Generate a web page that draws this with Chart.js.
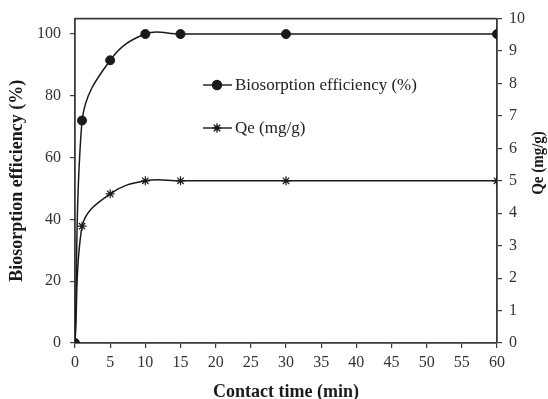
<!DOCTYPE html>
<html>
<head>
<meta charset="utf-8">
<script src="https://cdn.jsdelivr.net/npm/chart.js@4.4.1/dist/chart.umd.min.js"></script>
<style>
  html, body { margin: 0; padding: 0; background: #fff; }
  #wrap { width: 548px; height: 399px; }
</style>
</head>
<body>
<div id="wrap"><canvas id="c" width="548" height="399"></canvas></div>
<script>
// Contact time (min)
const contactTime = [0, 1, 5, 10, 15, 30, 60];
// Biosorption efficiency (%)
const efficiency = [0, 72, 91.5, 100, 100, 100, 100];
// Qe (mg/g)
const qe = [0, 3.6, 4.6, 5.0, 5.0, 5.0, 5.0];

const xTicks = [0, 5, 10, 15, 20, 25, 30, 35, 40, 45, 50, 55, 60];
const leftTicks = [0, 20, 40, 60, 80, 100];
const rightTicks = [0, 1, 2, 3, 4, 5, 6, 7, 8, 9, 10];

const seriesNames = ['Biosorption efficiency (%)', 'Qe (mg/g)'];
const xTitle = 'Contact time (min)';
const leftTitle = 'Biosorption efficiency (%)';
const rightTitle = 'Qe (mg/g)';

const INK = '#1a1a1a';
const AXIS = '#3a3a3a';
const SERIF = '"Liberation Serif", "Times New Roman", serif';

const toPoints = (xs, ys) => xs.map((x, i) => ({ x: x, y: ys[i] }));

// Frame around the plot, inline legend and right-hand axis title
const decor = {
  id: 'decor',
  afterDraw(chart) {
    const { ctx, chartArea: a } = chart;
    ctx.save();
    ctx.strokeStyle = AXIS;
    ctx.lineWidth = 1.6;
    ctx.beginPath();
    ctx.moveTo(a.left, a.top);
    ctx.lineTo(a.right, a.top);
    ctx.stroke();

    // legend entries
    const rows = [
      { y: 85, style: 'circle', r: 4.5 },
      { y: 128, style: 'star', r: 4.5 }
    ];
    ctx.font = '17px ' + SERIF;
    ctx.textBaseline = 'middle';
    rows.forEach((row, i) => {
      ctx.strokeStyle = INK;
      ctx.fillStyle = INK;
      ctx.lineWidth = 1.4;
      ctx.beginPath();
      ctx.moveTo(203, row.y);
      ctx.lineTo(232, row.y);
      ctx.stroke();
      Chart.helpers.drawPoint(ctx, {
        pointStyle: row.style, radius: row.r, borderWidth: 1.2, rotation: 0
      }, 217, row.y);
      if (row.style === 'circle') { ctx.fill(); }
      ctx.fillStyle = '#222';
      ctx.fillText(seriesNames[i], 235, row.y + 1);
    });

    // right axis title, reading bottom to top
    ctx.translate(539, 163);
    ctx.rotate(-Math.PI / 2);
    ctx.scale(1, 1.15);
    ctx.font = 'bold 15px ' + SERIF;
    ctx.fillStyle = INK;
    ctx.textAlign = 'center';
    ctx.textBaseline = 'middle';
    ctx.fillText(rightTitle, 0, 0);
    ctx.restore();
  }
};

const tickFont = { family: SERIF, size: 16 };
const titleFont = { family: SERIF, size: 18, weight: 'bold' };

new Chart(document.getElementById('c'), {
  type: 'line',
  data: {
    datasets: [
      {
        label: seriesNames[0],
        data: toPoints(contactTime, efficiency),
        yAxisID: 'y',
        borderColor: INK,
        backgroundColor: INK,
        borderWidth: 1.5,
        pointStyle: 'circle',
        pointRadius: 4.5,
        pointBorderWidth: 1,
        tension: 0.4,
        fill: false
      },
      {
        label: seriesNames[1],
        data: toPoints(contactTime, qe),
        yAxisID: 'y1',
        borderColor: INK,
        backgroundColor: INK,
        borderWidth: 1.5,
        pointStyle: 'star',
        pointRadius: 4.5,
        pointBorderWidth: 1.2,
        tension: 0.4,
        fill: false
      }
    ]
  },
  options: {
    responsive: false,
    animation: false,
    devicePixelRatio: 1,
    layout: { padding: { top: 17, left: 0, right: 0, bottom: 0 } },
    plugins: { legend: { display: false }, tooltip: { enabled: false } },
    elements: { line: { borderJoinStyle: 'round' } },
    scales: {
      x: {
        type: 'linear',
        min: 0, max: 60,
        afterBuildTicks: s => { s.ticks = xTicks.map(v => ({ value: v })); },
        afterFit: s => { s.height = 56; },
        grid: { display: true, drawOnChartArea: false, drawTicks: true, tickLength: 5, color: AXIS, lineWidth: 1.2 },
        border: { display: true, color: AXIS, width: 1.8 },
        ticks: { color: '#333', font: tickFont, padding: 5, maxRotation: 0, autoSkip: false },
        title: { display: true, text: xTitle, color: INK, font: { family: SERIF, size: 18, weight: 'bold', lineHeight: 1 }, padding: { top: 0, bottom: -2 } }
      },
      y: {
        position: 'left',
        min: 0, max: 105,
        afterBuildTicks: s => { s.ticks = leftTicks.map(v => ({ value: v })); },
        afterFit: s => { s.width = 75; },
        grid: { display: true, drawOnChartArea: false, drawTicks: true, tickLength: 5, color: AXIS, lineWidth: 1.2 },
        border: { display: true, color: AXIS, width: 1.8 },
        ticks: { color: '#333', font: tickFont, padding: 9 },
        title: { display: true, text: leftTitle, color: INK, font: titleFont, padding: { top: 7, bottom: 2 } }
      },
      y1: {
        position: 'right',
        min: 0, max: 10,
        afterBuildTicks: s => { s.ticks = rightTicks.map(v => ({ value: v })); },
        afterFit: s => { s.width = 51; },
        grid: { display: true, drawOnChartArea: false, drawTicks: true, tickLength: 5, color: AXIS, lineWidth: 1.2 },
        border: { display: true, color: AXIS, width: 1.8 },
        ticks: { color: '#333', font: tickFont, padding: 7 }
      }
    }
  },
  plugins: [decor]
});
</script>
</body>
</html>
